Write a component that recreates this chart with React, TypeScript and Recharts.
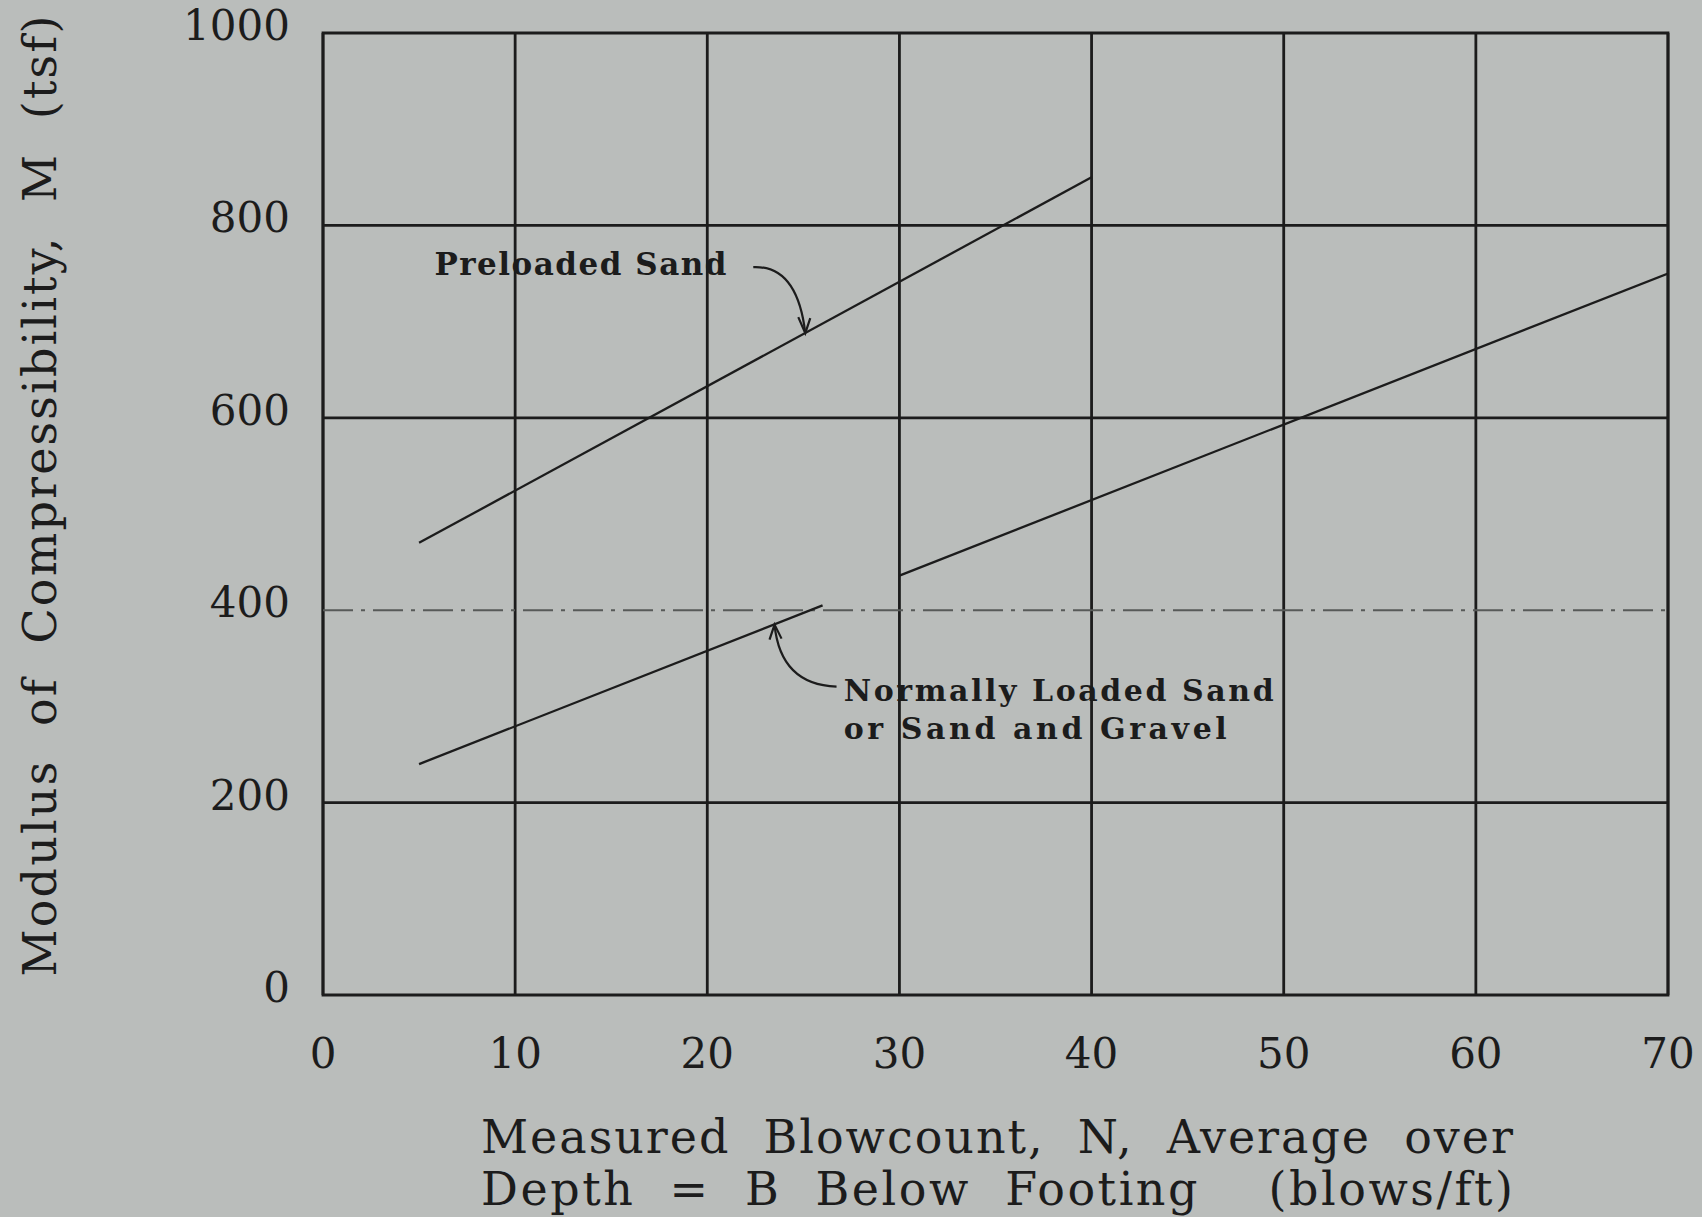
import React from "react";
import {
  LineChart,
  Line,
  XAxis,
  YAxis,
  CartesianGrid,
  ReferenceLine,
  ReferenceArea,
  ReferenceDot,
} from "recharts";

// blowcount N (blows/ft) on x, modulus M (tsf) on y
const xTicks = [0, 10, 20, 30, 40, 50, 60, 70];
const yTicks = [0, 200, 400, 600, 800, 1000];

const preloadedSand = [
  { n: 5, m: 470 },
  { n: 40, m: 850 },
];
// the normally loaded line is broken near the 400 dash-dot line in the scan
const normalSandLow = [
  { n: 5, m: 240 },
  { n: 26, m: 405 },
];
const normalSandHigh = [
  { n: 30, m: 436 },
  { n: 70, m: 750 },
];

const solidGridM = [200, 600, 800];
const dashGridM = 400;

// arrow tips sit on the lines, labels anchored in data units
const preloadedArrowTip = { n: 25.1, m: 688 };
const normalArrowTip = { n: 23.5, m: 385 };
const preloadedLabel = { n: 5.8, m: 748, text: "Preloaded Sand" };
const normalLabel = { n: 27.1, m: 306, lines: ["Normally Loaded Sand", "or Sand and Gravel"] };

const INK = "#1c1c1c";
const BG = "#babdbb";
const SERIF = "'DejaVu Serif', serif";

const XTick = ({ x, y, payload }: any) => (
  <text x={x} y={y + 65} textAnchor="middle" fontFamily={SERIF} fontSize={42} fill={INK}>
    {payload.value}
  </text>
);

const YTick = ({ x, y, payload }: any) => (
  <text x={x} y={y + 7} textAnchor="end" fontFamily={SERIF} fontSize={42} fill={INK}>
    {payload.value}
  </text>
);

const PreloadedText = ({ cx, cy }: any) => (
  <text
    x={cx}
    y={cy}
    fontFamily={SERIF}
    fontWeight="bold"
    fontSize={31}
    fill={INK}
    textLength={292}
    lengthAdjust="spacing"
  >
    {preloadedLabel.text}
  </text>
);

const NormalText = ({ cx, cy }: any) => (
  <g fontFamily={SERIF} fontWeight="bold" fontSize={30} fill={INK}>
    <text x={cx} y={cy} textLength={430} lengthAdjust="spacing">
      {normalLabel.lines[0]}
    </text>
    <text x={cx} y={cy + 38} textLength={383} lengthAdjust="spacing">
      {normalLabel.lines[1]}
    </text>
  </g>
);

const PreloadedArrow = ({ cx, cy }: any) => (
  <g fill="none" stroke={INK} strokeWidth={2.2}>
    <path d={`M${cx - 52},${cy - 66} Q${cx - 8},${cy - 68} ${cx},${cy}`} />
    <path d={`M${cx - 7},${cy - 16} L${cx},${cy} L${cx + 5},${cy - 15}`} />
  </g>
);

const NormalArrow = ({ cx, cy }: any) => (
  <g fill="none" stroke={INK} strokeWidth={2.2}>
    <path d={`M${cx + 62},${cy + 62} Q${cx + 6},${cy + 60} ${cx},${cy}`} />
    <path d={`M${cx - 5},${cy + 15} L${cx},${cy} L${cx + 7},${cy + 14}`} />
  </g>
);

export default function App() {
  return (
    <div style={{ position: "absolute", left: 0, top: 0, width: 1702, height: 1217, background: BG }}>
      <LineChart
        width={1702}
        height={1217}
        margin={{ top: 33, right: 34, bottom: 122, left: 203 }}
      >
        <CartesianGrid horizontal={false} stroke={INK} strokeWidth={2.8} />
        <XAxis
          type="number"
          dataKey="n"
          domain={[0, 70]}
          ticks={xTicks}
          height={100}
          axisLine={false}
          tickLine={false}
          tickSize={0}
          tickMargin={8}
          tick={<XTick />}
          allowDataOverflow
        />
        <YAxis
          type="number"
          dataKey="m"
          domain={[0, 1000]}
          ticks={yTicks}
          width={120}
          axisLine={false}
          tickLine={false}
          tickSize={0}
          tickMargin={33}
          tick={<YTick />}
          allowDataOverflow
        />
        {solidGridM.map((m) => (
          <ReferenceLine key={m} y={m} stroke={INK} strokeWidth={2.8} />
        ))}
        <ReferenceLine y={dashGridM} stroke="#575a58" strokeWidth={2} strokeDasharray="30 8 4 8" />
        <ReferenceArea x1={0} x2={70} y1={0} y2={1000} fill="none" stroke={INK} strokeWidth={2.8} />

        <Line data={preloadedSand} dataKey="m" stroke={INK} strokeWidth={2.3} dot={false} isAnimationActive={false} />
        <Line data={normalSandLow} dataKey="m" stroke={INK} strokeWidth={2.3} dot={false} isAnimationActive={false} />
        <Line data={normalSandHigh} dataKey="m" stroke={INK} strokeWidth={2.3} dot={false} isAnimationActive={false} />

        <ReferenceDot x={preloadedLabel.n} y={preloadedLabel.m} r={0} shape={PreloadedText} />
        <ReferenceDot x={normalLabel.n} y={normalLabel.m} r={0} shape={NormalText} />
        <ReferenceDot x={preloadedArrowTip.n} y={preloadedArrowTip.m} r={0} shape={PreloadedArrow} />
        <ReferenceDot x={normalArrowTip.n} y={normalArrowTip.m} r={0} shape={NormalArrow} />

        <g fontFamily={SERIF} fontSize={46} fill={INK}>
          <text x={481} y={1153} textLength={1032} lengthAdjust="spacing" style={{ whiteSpace: "pre" }}>
            {"Measured  Blowcount,  N,  Average  over"}
          </text>
          <text x={481} y={1205} textLength={1032} lengthAdjust="spacing" style={{ whiteSpace: "pre" }}>
            {"Depth  =  B  Below  Footing    (blows/ft)"}
          </text>
          <text
            transform="translate(56,496) rotate(-90)"
            textAnchor="middle"
            textLength={961}
            lengthAdjust="spacing"
            style={{ whiteSpace: "pre" }}
          >
            {"Modulus  of  Compressibility,  M  (tsf)"}
          </text>
        </g>
      </LineChart>
    </div>
  );
}
